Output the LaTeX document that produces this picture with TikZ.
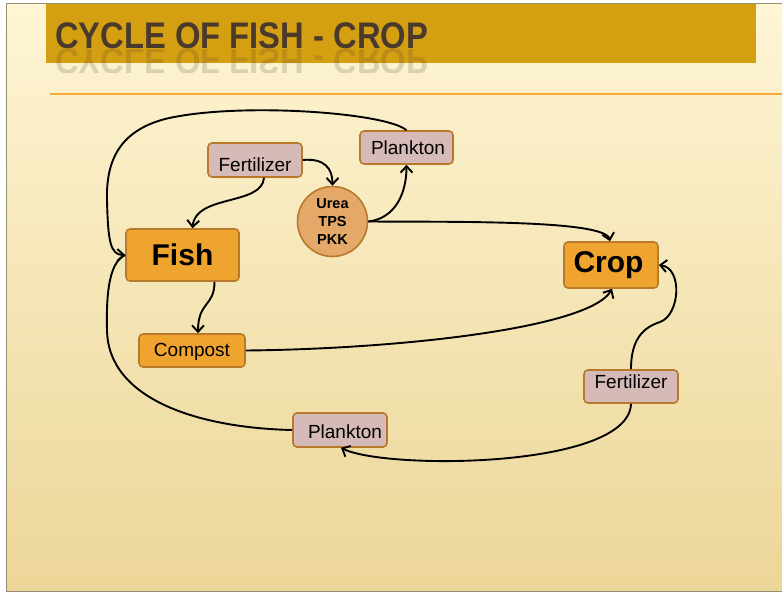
\documentclass[tikz,border=0pt]{standalone}
\usepackage{fontspec}
\setmainfont{Liberation Sans}
\usetikzlibrary{arrows.meta}

\definecolor{bgtop}{RGB}{254,245,212}
\definecolor{bgbot}{RGB}{236,214,152}
\definecolor{titlebar}{RGB}{212,160,18}
\definecolor{titleink}{RGB}{74,58,44}
\definecolor{rulecol}{RGB}{245,170,58}
\definecolor{edgebrown}{RGB}{184,122,42}
\definecolor{pinkfill}{RGB}{213,186,183}
\definecolor{orangefill}{RGB}{240,164,48}
\definecolor{circfill}{RGB}{228,168,104}
\definecolor{framegray}{RGB}{150,140,120}

\tikzset{
  box/.style={draw=edgebrown, line width=1.6pt, rounded corners=4pt, inner sep=0pt, align=center},
  pinkbox/.style={box, fill=pinkfill, minimum width=94pt, minimum height=34pt,
    text height=13.7pt, text depth=4.1pt, font=\fontsize{19}{22}\selectfont},
  smallorange/.style={box, fill=orangefill, minimum height=33pt,
    text height=13.7pt, text depth=4.1pt, font=\fontsize{19}{22}\selectfont},
  bigorange/.style={box, fill=orangefill, font=\fontsize{30}{34}\selectfont\bfseries},
  mix/.style={draw=edgebrown, line width=1.6pt, circle, fill=circfill, inner sep=0pt,
    minimum size=70pt, align=center, font=\fontsize{14.5}{18}\selectfont\bfseries},
  flow/.style={line width=1.9pt, -{Straight Barb[length=6.5pt,width=12pt]}},
  link/.style={line width=1.9pt},
  headline/.style={text=titleink, font=\fontsize{37}{40}\selectfont\bfseries, inner sep=0pt, anchor=base west},
}

\begin{document}
\begin{tikzpicture}[x=1pt, y=-1pt]
  \useasboundingbox (0,0) rectangle (782,592);

  % slide background and frame
  \fill[white] (0,0) rectangle (782,592);
  \shade[top color=bgtop, bottom color=bgbot] (6,4) rectangle (782,591);
  \draw[framegray, line width=1pt] (782,3.5) -- (6,3.5) -- (6,591) -- (782,591);

  % title bar with its faint reflection
  \fill[titlebar] (46,4) rectangle (756,63);
  \begin{scope}
    \clip (40,49) rectangle (500,72);
    \node[headline, xscale=0.885, yscale=-1, opacity=0.18] (titleshadow) at (55,48.5) {CYCLE OF FISH - CROP};
  \end{scope}
  \node[headline, xscale=0.885] (title) at (55,48.5) {CYCLE OF FISH - CROP};
  \draw[rulecol, line width=1.2pt] (50,94) -- (782,94);

  % nodes
  \node[pinkbox] (fertA) at (255,160) {\raisebox{-6.5pt}{Fertilizer}};
  \node[pinkbox, minimum width=93pt, minimum height=33pt] (plankA) at (406.5,147.5) {\hspace*{3pt}\raisebox{-2.5pt}{Plankton}};
  \node[mix] (urea) at (332.5,221.5) {Urea\\TPS\\PKK};
  \node[bigorange, minimum width=113pt, minimum height=52pt] (fish) at (182.5,255) {Fish};
  \node[bigorange, minimum width=94pt, minimum height=46pt] (crop) at (611,265) {Crop\hspace*{5pt}};
  \node[smallorange, minimum width=106pt] (comp) at (192,350.5) {\raisebox{-1.5pt}{Compost}};
  \node[pinkbox, minimum height=33pt] (fertB) at (631,386.5) {\raisebox{2.5pt}{Fertilizer}};
  \node[pinkbox] (plankB) at (340,430) {\hspace*{10pt}\raisebox{-3.5pt}{Plankton}};

  % connectors
  \draw[flow] ([xshift=9pt]fertA.south) .. controls +(-2,28) and +(3,-34) .. ([xshift=10pt]fish.north);
  \draw[flow] (fertA.east) .. controls +(22,-2) and +(0,-17) .. (urea.north);
  \draw[flow] (urea.east) .. controls +(26,-3) and +(0,30) .. (plankA.south);
  \draw[flow] (plankA.north) .. controls (385,112) and (235,102) .. (165,119)
                             .. controls (120,131) and (106,160) .. (107,200)
                             .. controls (108,240) and (110,255) .. (fish.west);
  \draw[flow] (urea.east) .. controls (460,222) and (605,220) .. ([xshift=-1pt]crop.north);
  \draw[flow] ([xshift=32pt]fish.south) .. controls +(0,25) and +(0,-32) .. ([xshift=6pt]comp.north);
  \draw[flow] (comp.east) .. controls (400,349) and (590,328) .. ([xshift=1pt]crop.south);
  \draw[flow] (fertB.north) .. controls +(0,-32) and (645,327) .. (660,322)
                            .. controls (680,315) and (683,268) .. (crop.east);
  \draw[flow] (fertB.south) .. controls +(-2,65) and (385,470) .. ([xshift=1pt]plankB.south);
  \draw[link] (plankB.west) .. controls (200,428) and (108,400) .. (107,330)
                            .. controls (106,290) and (110,262) .. (fish.west);
\end{tikzpicture}
\end{document}
